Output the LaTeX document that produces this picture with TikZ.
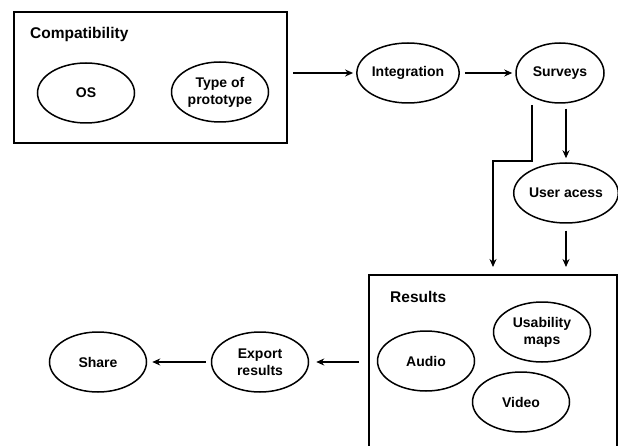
\documentclass[tikz,border=0pt]{standalone}
\usepackage{fontspec}
\setmainfont{Liberation Sans}
\usetikzlibrary{shapes.geometric,arrows.meta}
\begin{document}
\begin{tikzpicture}[x=1pt,y=-1pt,
  ell/.style={draw, ellipse, line width=1.5pt, inner sep=0pt, minimum width=97pt, minimum height=60pt, align=center, font=\fontsize{14}{17}\selectfont\bfseries},
  frame/.style={draw, line width=2pt, inner sep=0pt},
  head/.style={anchor=base west, inner sep=0pt, font=\fontsize{15.5}{18}\selectfont\bfseries},
  arr/.style={line width=1.5pt, -{Stealth[length=8pt,width=7pt]}}]
\useasboundingbox[fill=white] (0,0) rectangle (618,446);
% Compatibility frame
\node[frame, minimum width=273pt, minimum height=131pt] (compat) at (150.5,77.5) {};
\node[head] (compatlbl) at (30,38.5) {Compatibility};
\node[ell] (os) at (86,93) {OS};
\node[ell] (type) at (220,92) {Type of\\prototype};
% top row
\node[ell] (int) at (408,73) {Integration};
\node[ell, minimum width=88pt] (surv) at (560,73) {Surveys};
\node[ell, minimum width=100pt] (user) at (566,193) {User acess};
% Results frame
\node[frame, minimum width=248pt, minimum height=175pt] (res) at (493,362.5) {};
\node[head] (reslbl) at (390,302) {Results};
\node[ell] (usab) at (542,332) {Usability\\maps};
\node[ell] (audio) at (426,361) {Audio};
\node[ell] (video) at (521,402) {Video};
% bottom left
\node[ell] (exp) at (260,362) {Export\\results};
\node[ell] (share) at (98,362) {Share};
% connectors
\draw[arr, shorten <=5pt, shorten >=3pt] (compat.east |- int.west) -- (int.west);
\draw[arr, shorten <=5pt, shorten >=3pt] (int.east) -- (surv.west);
\draw[arr, shorten <=5pt, shorten >=4pt] (surv.south -| user.north) -- (user.north);
\coordinate (s1) at (532,105);
\coordinate (s2) at (493,161);
\draw[arr, shorten >=7pt] (s1) |- (s2) -- (s2 |- res.north);
\draw[arr, shorten <=7pt, shorten >=7pt] (user.south) -- (user.south |- res.north);
\draw[arr, shorten <=9pt, shorten >=7pt] (res.west |- exp.east) -- (exp.east);
\draw[arr, shorten <=5pt, shorten >=5pt] (exp.west) -- (share.east);
\end{tikzpicture}
\end{document}
